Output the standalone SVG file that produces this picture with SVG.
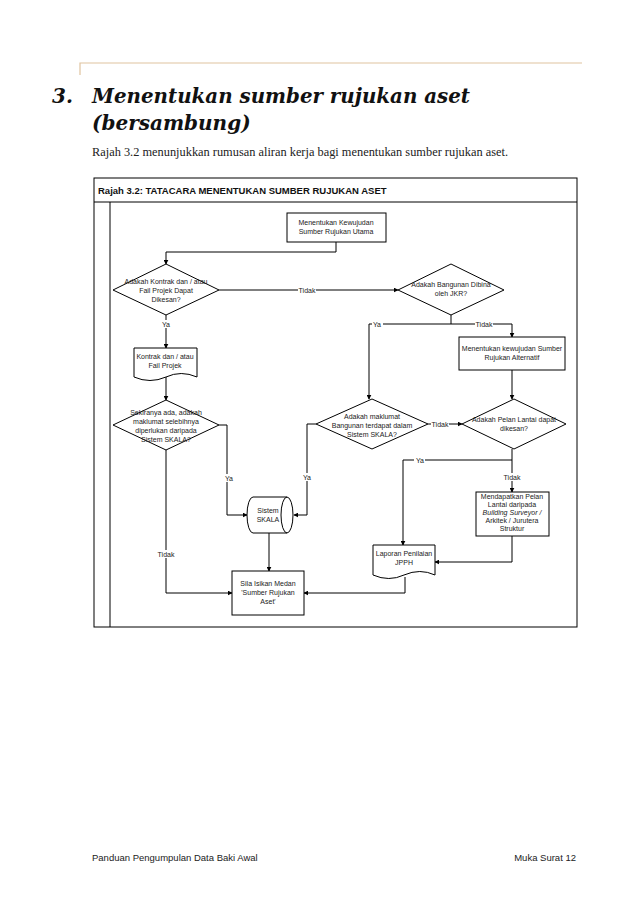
<svg xmlns="http://www.w3.org/2000/svg" width="638" height="902" viewBox="0 0 638 902">
<defs>
<marker id="ar" viewBox="0 0 8 8" refX="7" refY="4" markerWidth="5" markerHeight="5" orient="auto"><path d="M0,0 L8,4 L0,8 z" fill="#000"/></marker>
<style>
.s{fill:#fff;stroke:#000;stroke-width:1}
.c{fill:none;stroke:#000;stroke-width:1}
.a{marker-end:url(#ar)}
.t{font-family:"Liberation Sans",Arial,sans-serif;font-size:7px;fill:#222;text-anchor:middle}
.l{font-family:"Liberation Sans",Arial,sans-serif;font-size:7px;fill:#222;text-anchor:middle}
.lb{fill:#fff}
</style>
</defs>
<rect width="638" height="902" fill="#fff"/>
<path d="M80,75 V63 H582" fill="none" stroke="#e0c39f" stroke-width="1.2"/>
<g font-family="'DejaVu Serif',Georgia,serif" font-weight="bold" font-style="italic" font-size="20" fill="#111">
<text x="52" y="103">3.</text>
<text x="92" y="103" textLength="378" lengthAdjust="spacingAndGlyphs">Menentukan sumber rujukan aset</text>
<text x="92" y="130">(bersambung)</text>
</g>
<text x="92" y="156" font-family="'Liberation Serif',Georgia,serif" font-size="12" fill="#222" textLength="416" lengthAdjust="spacingAndGlyphs">Rajah 3.2 menunjukkan rumusan aliran kerja bagi menentukan sumber rujukan aset.</text>
<rect x="94" y="178" width="483" height="449" class="s"/>
<line x1="94" y1="202" x2="577" y2="202" class="c"/>
<line x1="110" y1="202" x2="110" y2="627" class="c"/>
<text x="98" y="194" font-family="'Liberation Sans',Arial,sans-serif" font-weight="bold" font-size="9.5" fill="#111">Rajah 3.2: TATACARA MENENTUKAN SUMBER RUJUKAN ASET</text>

<g id="connectors">
<path d="M336,242 V252 H166 V264" class="c a"/>
<path d="M219,290 H398" class="c a"/>
<path d="M451,315 V324 H369 V399" class="c a"/>
<path d="M451,324 H512 V337" class="c a"/>
<path d="M512,370 V399" class="c a"/>
<path d="M166,315 V348" class="c a"/>
<path d="M166,377 V400" class="c a"/>
<path d="M428,424 H462" class="c a"/>
<path d="M219,425 H227 V515 H247" class="c a"/>
<path d="M316,424 H307 V515 H294" class="c a"/>
<path d="M269,533 V571" class="c a"/>
<path d="M166,450 V593 H232" class="c a"/>
<path d="M512,449 V460 H403 V545" class="c a"/>
<path d="M512,460 V492" class="c a"/>
<path d="M512,536 V562 H435" class="c a"/>
<path d="M405,577 V593 H304" class="c a"/>
<g class="l">
<rect x="298" y="286" width="18" height="8" class="lb"/><text x="307" y="292.5">Tidak</text>
<rect x="372" y="320" width="11" height="8" class="lb"/><text x="377" y="326.5">Ya</text>
<rect x="475" y="320" width="18" height="8" class="lb"/><text x="484" y="326.5">Tidak</text>
<rect x="160" y="320" width="11" height="8" class="lb"/><text x="166" y="326.5">Ya</text>
<rect x="431" y="420" width="18" height="8" class="lb"/><text x="440" y="426.5">Tidak</text>
<rect x="223" y="474" width="11" height="8" class="lb"/><text x="229" y="480.5">Ya</text>
<rect x="302" y="473" width="11" height="8" class="lb"/><text x="307" y="479.5">Ya</text>
<rect x="157" y="550" width="18" height="8" class="lb"/><text x="166" y="556.5">Tidak</text>
<rect x="414" y="456" width="11" height="8" class="lb"/><text x="420" y="462.5">Ya</text>
<rect x="503" y="473" width="18" height="8" class="lb"/><text x="512" y="479.5">Tidak</text>
</g>
</g>

<g id="n1"><rect x="287" y="213" width="99" height="29" class="s"/><text class="t" x="336" y="225">Menentukan Kewujudan</text><text class="t" x="336" y="234">Sumber Rujukan Utama</text></g>
<g id="d1"><polygon points="166,264 219,290 166,315 113,290" class="s"/><text class="t" x="166" y="284">Adakah Kontrak dan / atau</text><text class="t" x="166" y="293">Fail Projek Dapat</text><text class="t" x="166" y="302">Dikesan?</text></g>
<g id="d2"><polygon points="451,264 504,290 451,315 398,290" class="s"/><text class="t" x="451" y="287">Adakah Bangunan Dibina</text><text class="t" x="451" y="296">oleh JKR?</text></g>
<g id="n2"><rect x="459" y="337" width="106" height="33" class="s"/><text class="t" x="512" y="351">Menentukan kewujudan Sumber</text><text class="t" x="512" y="360">Rujukan Alternatif</text></g>
<g id="n3"><path d="M134,348 H197 V377 Q181,370 166,377 Q150,384 134,377 Z" class="s"/><text class="t" x="165" y="359">Kontrak dan / atau</text><text class="t" x="165" y="368">Fail Projek</text></g>
<g id="d3"><polygon points="166,400 219,425 166,450 113,425" class="s"/><text class="t" x="166" y="415">Sekiranya ada, adakah</text><text class="t" x="166" y="424">maklumat selebihnya</text><text class="t" x="166" y="433">diperlukan daripada</text><text class="t" x="166" y="442">Sistem SKALA?</text></g>
<g id="d4"><polygon points="372,399 428,424 372,449 316,424" class="s"/><text class="t" x="372" y="419">Adakah maklumat</text><text class="t" x="372" y="428">Bangunan terdapat dalam</text><text class="t" x="372" y="437">Sistem SKALA?</text></g>
<g id="d5"><polygon points="514,399 566,424 514,449 462,424" class="s"/><text class="t" x="514" y="422">Adakah Pelan Lantai dapat</text><text class="t" x="514" y="431">dikesan?</text></g>
<g id="n4"><path d="M253,497 H287 A6,18 0 0 1 287,533 H253 A6,18 0 0 1 253,497 Z" class="s"/><path d="M287,497 A6,18 0 0 0 287,533" class="c"/><text class="t" x="268" y="513">Sistem</text><text class="t" x="268" y="522">SKALA</text></g>
<g id="n5"><rect x="476" y="492" width="73" height="44" class="s"/><text class="t" x="512" y="499">Mendapatkan Pelan</text><text class="t" x="512" y="507">Lantai daripada</text><text class="t" x="512" y="515" font-style="italic">Building Surveyor /</text><text class="t" x="512" y="523">Arkitek / Jurutera</text><text class="t" x="512" y="531">Struktur</text></g>
<g id="n6"><path d="M373,545 H435 V575 Q420,568 404,575 Q389,582 373,575 Z" class="s"/><text class="t" x="404" y="556">Laporan Penilaian</text><text class="t" x="404" y="565">JPPH</text></g>
<g id="n7"><rect x="232" y="571" width="72" height="44" class="s"/><text class="t" x="268" y="586">Sila Isikan Medan</text><text class="t" x="268" y="595">'Sumber Rujukan</text><text class="t" x="268" y="604">Aset'</text></g>

<g font-family="'Liberation Sans',Arial,sans-serif" font-size="9.5" fill="#222">
<text x="92" y="861">Panduan Pengumpulan Data Baki Awal</text>
<text x="576" y="861" text-anchor="end">Muka Surat 12</text>
</g>
</svg>
